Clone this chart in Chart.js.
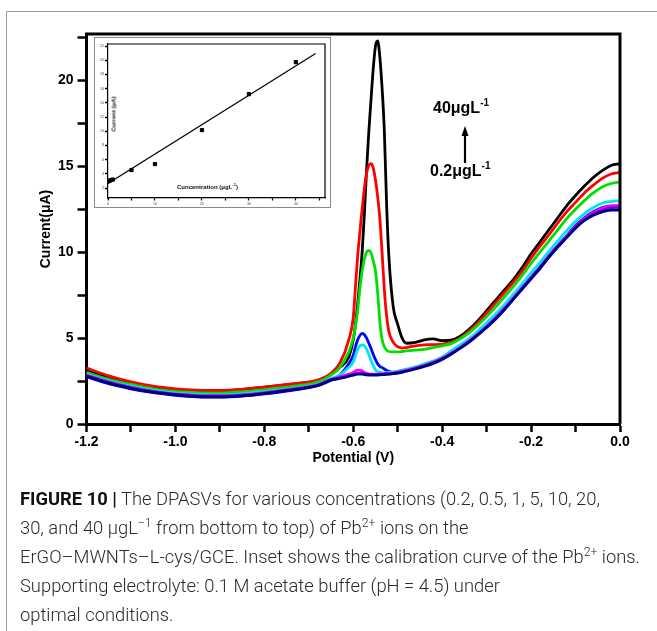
<!DOCTYPE html>
<html><head><meta charset="utf-8">
<script src="https://cdn.jsdelivr.net/npm/chart.js@4.4.1/dist/chart.umd.min.js"></script>
<style>
html,body{margin:0;padding:0;background:#fff;}
body{width:657px;height:631px;position:relative;overflow:hidden;font-family:"Liberation Sans",Arial,sans-serif;}
#frameTop{position:absolute;left:6px;top:11px;width:651px;height:0;border-top:1.5px solid #9a9a9a;}
#frameLeft{position:absolute;left:6px;top:11px;width:0;height:620px;border-left:1.5px solid #9a9a9a;}
#main{position:absolute;left:0;top:0;}
#insetWrap{position:absolute;left:94px;top:37px;width:237px;height:171px;background:#fff;border:1px solid #8a8a8a;box-sizing:border-box;}
#inset{position:absolute;left:0;top:0;}
.ann{position:absolute;font-weight:bold;font-size:16px;color:#000;white-space:nowrap;line-height:16px;}
.ann sup{font-size:10px;vertical-align:7px;line-height:0;}
.itl{position:absolute;font-weight:bold;font-size:6px;color:#111;white-space:nowrap;line-height:7px;}
.itl sup{font-size:4px;vertical-align:3px;line-height:0;}
#caption{position:absolute;left:20px;top:484px;font-family:"Roboto","Liberation Sans",sans-serif;font-weight:300;font-size:18px;line-height:29px;color:#2a2a2a;white-space:nowrap;transform-origin:0 0;}
#caption sup{font-size:12px;vertical-align:7px;line-height:0;}
#caption b{font-weight:bold;color:#111;}
</style>
</head><body>
<div id="frameTop"></div><div id="frameLeft"></div>
<canvas id="main" width="657" height="475"></canvas>
<div id="insetWrap"><canvas id="inset" width="235" height="169"></canvas></div>
<div class="itl" style="left:114px;top:114px;transform:translate(-50%,-50%) rotate(-90deg);transform-origin:50% 50%;">Current (μA)</div>
<div class="itl" style="left:177px;top:184px;">Cuncentration (μgL<sup>-1</sup>)</div>
<div class="ann" style="left:433px;top:100px;">40μgL<sup>-1</sup></div>
<div class="ann" style="left:430px;top:163px;">0.2μgL<sup>-1</sup></div>
<svg style="position:absolute;left:0;top:0;" width="657" height="631">
  <line x1="465" y1="163" x2="465" y2="134" stroke="#000" stroke-width="2.2"/>
  <polygon points="465,126 461.5,136 468.5,136" fill="#000"/>
</svg>
<div id="caption">
<span class="ln"><b>FIGURE 10 |</b> The DPASVs for various concentrations (0.2, 0.5, 1, 5, 10, 20,</span><br>
<span class="ln">30, and 40 μgL<sup>−1</sup> from bottom to top) of Pb<sup>2+</sup> ions on the</span><br>
<span class="ln" id="ln3">ErGO–MWNTs–L-cys/GCE. Inset shows the calibration curve of the Pb<sup>2+</sup> ions.</span><br>
<span class="ln">Supporting electrolyte: 0.1 M acetate buffer (pH = 4.5) under</span><br>
<span class="ln">optimal conditions.</span>
</div>
<script>
// ---- main DPASV curves: potential (V) and current (µA) ----
const potentials = [-1.2,-1.15,-1.1,-1.05,-1.0,-0.95,-0.9,-0.85,-0.8,-0.75,-0.7,-0.675,-0.65,
 -0.63,-0.61,
 -0.6,-0.595,-0.59,-0.585,-0.58,-0.575,-0.57,-0.565,-0.56,-0.555,-0.55,-0.545,-0.54,-0.535,-0.53,-0.525,-0.52,
 -0.51,-0.5,-0.49,-0.48,-0.46,-0.44,-0.42,-0.4,-0.38,
 -0.36,-0.34,-0.32,-0.3,-0.28,-0.26,-0.24,-0.22,-0.2,-0.18,-0.16,-0.14,-0.12,-0.1,-0.08,-0.06,-0.04,-0.02,0];

const cur40 = [3.1,2.7,2.4,2.15,2.0,1.93,1.93,2.02,2.15,2.28,2.42,2.55,2.9,
 3.3,3.9,
 4.9,5.8,7.0,8.4,10.0,12.2,14.8,17.0,18.9,20.7,22.0,22.3,21.3,19.5,17.0,12.8,9.8,
 6.8,5.8,5.0,4.7,4.75,4.9,4.95,4.85,4.88,
 5.1,5.5,6.0,6.6,7.2,7.8,8.4,9.1,9.9,10.6,11.3,12.0,12.7,13.3,13.85,14.35,14.75,15.05,15.15];
const cur30 = [3.25,2.8,2.45,2.2,2.05,1.97,1.95,2.02,2.15,2.3,2.45,2.6,2.95,
 3.55,4.9,
 6.2,8.0,9.8,11.2,12.5,13.7,14.6,15.05,15.15,14.9,14.2,13.2,11.9,9.9,7.8,6.3,5.4,
 4.75,4.5,4.42,4.45,4.55,4.6,4.62,4.65,4.75,
 5.0,5.4,5.9,6.45,7.05,7.65,8.25,8.9,9.65,10.35,11.0,11.7,12.35,12.9,13.45,13.9,14.3,14.55,14.65];
const cur20 = [3.0,2.6,2.3,2.05,1.9,1.82,1.8,1.87,2.0,2.15,2.32,2.48,2.85,
 3.3,4.2,
 5.0,5.7,6.6,7.9,8.9,9.6,10.0,10.1,9.95,9.5,8.9,7.6,5.9,4.9,4.5,4.3,4.22,
 4.2,4.2,4.22,4.25,4.3,4.35,4.45,4.55,4.68,
 4.95,5.3,5.75,6.25,6.8,7.4,8.0,8.65,9.35,10.0,10.65,11.3,11.95,12.5,13.0,13.45,13.8,14.0,14.1];
const cur10 = [2.75,2.35,2.05,1.82,1.67,1.58,1.56,1.62,1.75,1.92,2.12,2.28,2.55,
 2.85,3.5,
 4.0,4.5,4.9,5.15,5.27,5.2,5.0,4.7,4.4,4.05,3.75,3.5,3.35,3.28,3.2,3.12,3.06,
 3.0,3.03,3.08,3.14,3.27,3.43,3.6,3.83,4.13,
 4.5,4.85,5.25,5.7,6.2,6.75,7.35,7.95,8.55,9.15,9.8,10.4,10.95,11.55,12.0,12.35,12.6,12.7,12.7];
const cur5 = [2.9,2.5,2.2,1.95,1.8,1.72,1.7,1.75,1.88,2.03,2.2,2.35,2.65,
 2.85,3.3,
 3.6,4.0,4.35,4.55,4.6,4.55,4.35,4.05,3.7,3.4,3.15,3.05,3.0,2.98,2.98,2.99,3.0,
 3.03,3.08,3.14,3.2,3.33,3.5,3.67,3.9,4.25,
 4.6,4.95,5.4,5.9,6.4,6.95,7.55,8.15,8.8,9.4,10.05,10.65,11.25,11.8,12.25,12.6,12.85,12.95,13.0];
const cur1 = [2.85,2.45,2.15,1.9,1.75,1.67,1.65,1.7,1.83,2.0,2.17,2.33,2.6,
 2.75,2.9,
 3.0,3.08,3.14,3.13,3.08,3.0,2.95,2.92,2.9,2.9,2.9,2.9,2.91,2.92,2.93,2.94,2.95,
 2.98,3.02,3.08,3.14,3.27,3.42,3.6,3.82,4.12,
 4.45,4.82,5.23,5.68,6.18,6.72,7.32,7.92,8.52,9.12,9.76,10.37,10.93,11.5,11.95,12.3,12.55,12.68,12.7];
const cur05 = [2.82,2.42,2.12,1.88,1.72,1.64,1.62,1.68,1.8,1.97,2.15,2.3,2.58,
 2.68,2.8,
 2.88,2.92,2.95,2.96,2.95,2.93,2.9,2.88,2.87,2.87,2.87,2.87,2.88,2.89,2.9,2.91,2.92,
 2.95,2.99,3.05,3.11,3.24,3.39,3.57,3.8,4.1,
 4.42,4.78,5.2,5.65,6.15,6.7,7.3,7.9,8.5,9.1,9.73,10.33,10.9,11.45,11.88,12.22,12.45,12.58,12.6];
const cur02 = [2.78,2.38,2.08,1.85,1.7,1.6,1.58,1.64,1.77,1.94,2.13,2.28,2.55,
 2.65,2.78,
 2.85,2.88,2.9,2.9,2.9,2.88,2.86,2.85,2.84,2.84,2.84,2.85,2.86,2.87,2.88,2.89,2.9,
 2.93,2.96,3.01,3.07,3.2,3.35,3.53,3.76,4.05,
 4.4,4.75,5.18,5.62,6.1,6.65,7.25,7.85,8.45,9.05,9.7,10.3,10.85,11.4,11.85,12.15,12.35,12.45,12.45];

const seriesNames = ['0.2','0.5','1','5','10','20','30','40'];
const seriesColors = ['#000080','#8000e0','#ff00ff','#00e5f5','#0000ff','#00e000','#ff0000','#000000'];
const seriesValues = [cur02,cur05,cur1,cur5,cur10,cur20,cur30,cur40];

const xTickStep = 0.1;
const yTickStep = 2.5;

// ---- inset calibration data ----
const insetConc = [0.2,0.5,1,5,10,20,30,40];
const insetCurrent = [2.99,3.1,3.2,4.54,5.38,10.17,15.24,19.75];
const fitConc = [0,44.2];
const fitCurrent = [2.66,20.97];

const boldFont = (s)=>({family:'"Liberation Sans", Arial, sans-serif', size:s, weight:'bold'});

const framePlugin = {
  id:'frame',
  afterDraw(chart, args, opts){
    const {ctx, chartArea:a} = chart;
    const w = opts.width || 3;
    ctx.save();
    ctx.strokeStyle = '#000';
    ctx.lineWidth = w;
    ctx.beginPath();
    ctx.moveTo(a.left - w/2, a.top);
    ctx.lineTo(a.right, a.top);
    ctx.lineTo(a.right, a.bottom);
    ctx.stroke();
    ctx.restore();
  }
};

const datasets = seriesValues.map((vals,i)=>({
  label: seriesNames[i] + ' μgL-1',
  data: potentials.map((p,k)=>({x:p, y:vals[k]})),
  borderColor: seriesColors[i],
  backgroundColor: seriesColors[i],
  borderWidth: 2.8,
  pointRadius: 0,
  cubicInterpolationMode: 'monotone',
  fill: false,
  order: i+1
}));

new Chart(document.getElementById('main'), {
  type: 'line',
  data: { datasets },
  plugins: [framePlugin],
  options: {
    responsive: false, animation: false, devicePixelRatio: 1,
    layout: { padding: { top: 34, right: 37, bottom: 0, left: 0 } },
    plugins: { legend: {display:false}, tooltip: {enabled:false}, frame: {width:3} },
    scales: {
      x: {
        type: 'linear', min: -1.2, max: 0,
        afterFit(s){ s.height = 51; },
        ticks: {
          stepSize: xTickStep, autoSkip: false, includeBounds: false, maxRotation: 0,
          color: '#000', font: boldFont(14), padding: 2,
          callback(v){ const r = Math.round(v*10); if (r % 2 !== 0) return ''; if (r === 0) return '0.0'; return (r/10).toFixed(1); }
        },
        grid: { drawOnChartArea: false, tickLength: 8, tickWidth: 2.5, tickColor: '#000' },
        border: { color: '#000', width: 3 },
        title: { display: true, text: 'Potential (V)', color: '#000', font: boldFont(14), padding: {top:0, bottom:8} }
      },
      y: {
        type: 'linear', min: 0, max: 22.7,
        afterFit(s){ s.width = 86.5; },
        ticks: {
          stepSize: yTickStep, includeBounds: false, color: '#000', font: boldFont(14), padding: 4,
          callback(v){ const r = Math.round(v*2); return (r % 10 === 0) ? String(r/2) : ''; }
        },
        grid: { drawOnChartArea: false, tickLength: 9, tickWidth: 2.5, tickColor: '#000' },
        border: { color: '#000', width: 3 },
        title: { display: true, text: 'Current(μA)', color: '#000', font: boldFont(14), padding: {top:37.6, bottom:0} }
      }
    }
  }
});

new Chart(document.getElementById('inset'), {
  type: 'scatter',
  data: {
    datasets: [
      { label: 'fit', type: 'line', data: fitConc.map((c,i)=>({x:c, y:fitCurrent[i]})), borderColor:'#000', borderWidth:1.2, pointRadius:0, fill:false, order:2 },
      { label: 'Pb2+', data: insetConc.map((c,i)=>({x:c, y:insetCurrent[i]})), backgroundColor:'#000', borderColor:'#000', pointStyle:'rect', pointRadius:2.3, order:1 }
    ]
  },
  plugins: [framePlugin],
  options: {
    responsive: false, animation: false, devicePixelRatio: 1,
    layout: { padding: { top: 6, right: 1, bottom: 0, left: 0 } },
    plugins: { legend: {display:false}, tooltip: {enabled:false}, frame: {width:1.2} },
    scales: {
      x: {
        type: 'linear', min: 0, max: 46.2,
        afterFit(s){ s.height = 9; },
        ticks: { stepSize: 5, autoSkip:false, includeBounds:false, maxRotation:0, color:'#444', font:{size:3.5}, padding:1,
          callback(v){ return (Math.round(v) % 10 === 0) ? String(Math.round(v)) : ''; } },
        grid: { drawOnChartArea:false, tickLength:2.5, tickWidth:1.2, tickColor:'#000' },
        border: { color:'#000', width:1.2 }
      },
      y: {
        type: 'linear', min: 0.6, max: 22.3,
        afterFit(s){ s.width = 13; },
        ticks: { stepSize: 2, includeBounds:false, color:'#444', font:{size:3.5}, padding:1 },
        grid: { drawOnChartArea:false, tickLength:3, tickWidth:1.5, tickColor:'#000' },
        border: { color:'#000', width:1.2 }
      }
    }
  }
});

// fit caption width to the reference line length
(function(){
  const cap = document.getElementById('caption');
  const w = document.getElementById('ln3').getBoundingClientRect().width;
  if (w > 0) cap.style.transform = 'scaleX(' + (620 / w) + ')';
})();
</script>
</body></html>
